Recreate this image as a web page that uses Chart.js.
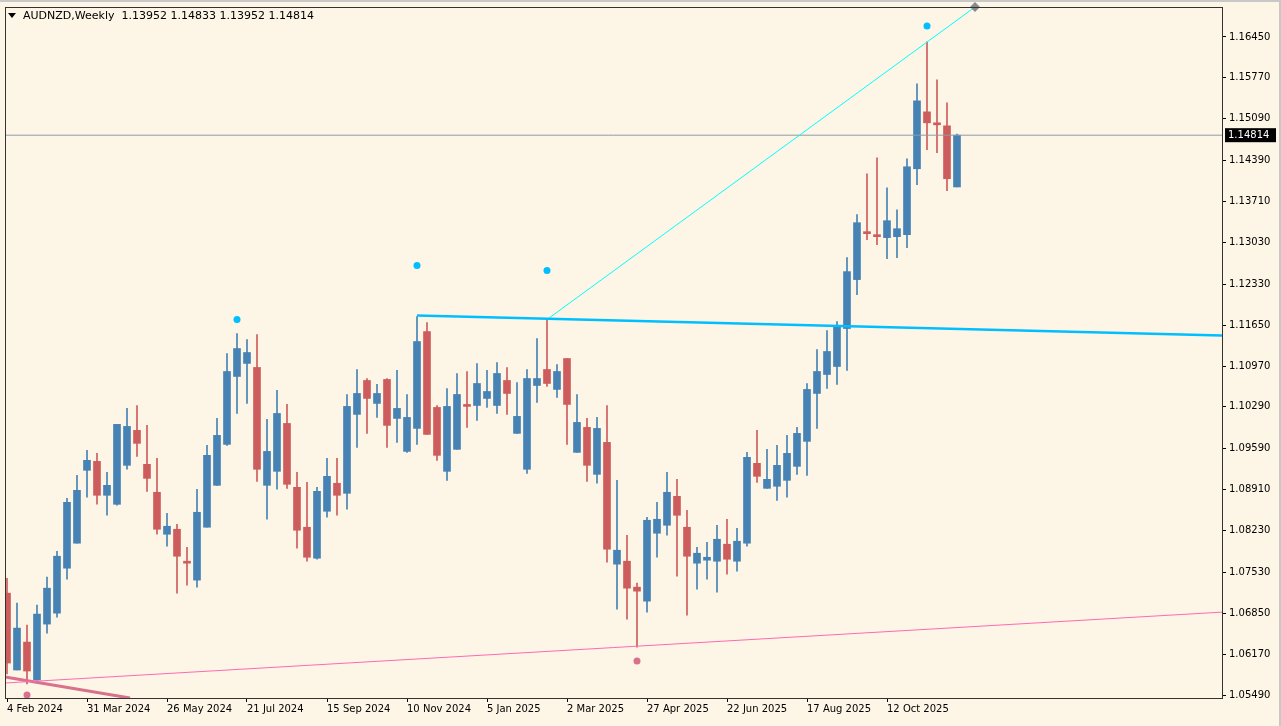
<!DOCTYPE html>
<html>
<head>
<meta charset="utf-8">
<script src="https://cdn.jsdelivr.net/npm/chart.js@4"></script>
<style>
  html, body { margin: 0; padding: 0; background: #fdf5e6; }
  #wrap { width: 1281px; height: 726px; box-sizing: border-box; border-top: 2px solid #c8c8c8; border-right: 2px solid #c8c8c8; }
</style>
</head>
<body>
<div id="wrap"><canvas id="audnzd" width="1279" height="724"></canvas></div>
<script>
// weekly candles AUDNZD, week index 0 = 4 Feb 2024
const opens  = [1.07187,1.05907,1.06372,1.05740,1.06672,1.06854,1.07603,1.08019,1.09233,1.09382,
                1.08817,1.08667,1.09316,1.09898,1.09333,1.08867,1.08168,1.08251,1.07719,1.07404,
                1.08285,1.08983,1.09665,1.10796,1.11013,1.10946,1.08983,1.09216,1.10014,1.08950,
                1.08285,1.07769,1.08551,1.09017,1.08850,1.10164,1.10729,1.10347,1.10746,1.10097,
                1.09548,1.09931,1.11544,1.10280,1.09216,1.09582,1.10330,1.10313,1.10430,1.10313,
                1.10729,1.09848,1.09250,1.10646,1.10912,1.10580,1.11095,1.09532,1.09948,1.09166,
                1.09698,1.07670,1.07719,1.07287,1.07054,1.08185,1.08318,1.08800,1.08285,1.07686,
                1.07736,1.07719,1.08002,1.07719,1.08019,1.09349,1.08933,1.08967,1.09066,1.09299,
                1.09715,1.10513,1.10829,1.10962,1.11594,1.12409,1.13191,1.13157,1.13108,1.13124,
                1.13157,1.14255,1.15203,1.15003,1.14970,1.13952];
const highs  = [1.07436,1.07021,1.06655,1.06988,1.07453,1.07885,1.08767,1.09149,1.09565,1.09515,
                1.09200,1.09998,1.10264,1.10313,1.09981,1.09432,1.08517,1.08334,1.07951,1.08917,
                1.09648,1.10097,1.11178,1.11511,1.11412,1.11495,1.10081,1.10563,1.10330,1.09200,
                1.09033,1.08950,1.09432,1.09432,1.10496,1.10912,1.10762,1.10663,1.10762,1.10896,
                1.10496,1.11794,1.11694,1.10313,1.10596,1.10846,1.10879,1.11012,1.10896,1.11029,
                1.10945,1.10696,1.10912,1.11428,1.11760,1.10995,1.11095,1.10496,1.10097,1.10114,
                1.10313,1.09066,1.08152,1.07353,1.08451,1.08700,1.09200,1.09083,1.08567,1.07951,
                1.08035,1.08318,1.08418,1.08268,1.09532,1.09898,1.09582,1.09648,1.09815,1.09948,
                1.10679,1.11245,1.11561,1.11710,1.12775,1.13490,1.14172,1.14438,1.13939,1.13573,
                1.14421,1.15668,1.16367,1.15735,1.15352,1.14833];
const lows   = [1.05840,1.05907,1.05674,1.05740,1.06522,1.06788,1.07420,1.08019,1.08784,1.08667,
                1.08484,1.08651,1.09250,1.09465,1.08883,1.08168,1.07968,1.07187,1.07320,1.07287,
                1.08285,1.08983,1.09648,1.10180,1.10347,1.09050,1.08418,1.08917,1.08933,1.07935,
                1.07719,1.07752,1.08451,1.08484,1.08584,1.09615,1.09848,1.10114,1.09615,1.09698,
                1.09532,1.09665,1.09831,1.09399,1.09066,1.09582,1.09948,1.10064,1.10280,1.10180,
                1.10164,1.09848,1.09183,1.10363,1.10629,1.10446,1.09665,1.09532,1.09050,1.09017,
                1.07703,1.06921,1.06755,1.06289,1.06871,1.07785,1.08152,1.07470,1.06821,1.07254,
                1.07420,1.07204,1.07503,1.07553,1.07968,1.09033,1.08933,1.08733,1.08784,1.09166,
                1.09149,1.09931,1.10596,1.10663,1.10896,1.12159,1.13074,1.12991,1.12758,1.12775,
                1.12941,1.13989,1.14571,1.14521,1.13889,1.13952];
const closes = [1.06023,1.06605,1.05890,1.06838,1.07270,1.07802,1.08700,1.08900,1.09399,1.08817,
                1.08983,1.09998,1.09964,1.09682,1.09099,1.08251,1.08301,1.07802,1.07686,1.08534,
                1.09482,1.09815,1.10879,1.11261,1.11195,1.09250,1.09548,1.10180,1.09000,1.08235,
                1.07785,1.08883,1.09133,1.08817,1.10297,1.10513,1.10430,1.10513,1.09981,1.10264,
                1.10114,1.11378,1.09831,1.09482,1.10297,1.10496,1.10297,1.10679,1.10546,1.10846,
                1.10513,1.10131,1.10762,1.10762,1.10679,1.10879,1.10330,1.10031,1.09316,1.09931,
                1.07919,1.07902,1.07270,1.07220,1.08401,1.08418,1.08867,1.08484,1.07802,1.07852,
                1.07785,1.08085,1.07752,1.08052,1.09449,1.09133,1.09083,1.09316,1.09515,1.09848,
                1.10580,1.10879,1.11212,1.11627,1.12542,1.13357,1.13174,1.13124,1.13390,1.13257,
                1.14288,1.15386,1.15020,1.14987,1.14089,1.14814];

const xLabels = {0:'4 Feb 2024', 8:'31 Mar 2024', 16:'26 May 2024', 24:'21 Jul 2024',
                 32:'15 Sep 2024', 40:'10 Nov 2024', 48:'5 Jan 2025', 56:'2 Mar 2025',
                 64:'27 Apr 2025', 72:'22 Jun 2025', 80:'17 Aug 2025', 88:'12 Oct 2025'};
const yTicks = [1.16450,1.15770,1.15090,1.14390,1.13710,1.13030,1.12330,1.11650,1.10970,
                1.10290,1.09590,1.08910,1.08230,1.07530,1.06850,1.06170,1.05490];

// drawn objects
const resistLine = [{x: 41, y: 1.11810}, {x: 121.5, y: 1.11478}];
const trendUp    = [{x: 54, y: 1.11744}, {x: 96.8, y: 1.16949}];
const supportLine = [{x: -0.2, y: 1.05691}, {x: 121.5, y: 1.06871}];
const fallLine   = [{x: -0.2, y: 1.05791}, {x: 12.3, y: 1.05441}];
const upFractals   = [{x: 23, y: 1.11744}, {x: 41, y: 1.12642}, {x: 54, y: 1.12559}, {x: 92, y: 1.16633}];
const downFractals = [{x: 2, y: 1.05491}, {x: 63, y: 1.06058}];
const lastPrice = 1.14814;

const UP = '#4682b4', DOWN = '#cd5c5c';
const colors = opens.map((o, i) => closes[i] >= o ? UP : DOWN);
const bodies = opens.map((o, i) => ({x: i, y: [o, closes[i]]}));
const wicks  = lows.map((l, i) => ({x: i, y: [l, highs[i]]}));

const overlay = {
  id: 'overlay',
  afterDraw(chart) {
    const ctx = chart.ctx, y = chart.scales.y;
    ctx.save();
    ctx.font = '11px "DejaVu Sans"';
    ctx.fillStyle = '#000';
    ctx.textBaseline = 'middle';
    ctx.beginPath();
    ctx.moveTo(8, 11); ctx.lineTo(16, 11); ctx.lineTo(12, 16); ctx.closePath(); ctx.fill();
    ctx.fillText('AUDNZD,Weekly  1.13952 1.14833 1.13952 1.14814', 23, 14);
    const py = y.getPixelForValue(lastPrice);
    ctx.fillStyle = '#000';
    ctx.fillRect(chart.chartArea.right + 3, py - 7, 51, 14);
    ctx.fillStyle = '#fff';
    ctx.font = '10px "DejaVu Sans"';
    ctx.fillText('1.14814', chart.chartArea.right + 6, py);
    ctx.restore();
  }
};

new Chart(document.getElementById('audnzd'), {
  type: 'bar',
  data: {
    datasets: [
      {type: 'line', data: supportLine, borderColor: '#ff69b4', borderWidth: 1, pointRadius: 0, order: 1},
      {type: 'line', data: fallLine, borderColor: '#d9708c', borderWidth: 3, pointRadius: 0, order: 1},
      {type: 'line', data: resistLine, borderColor: '#00bfff', borderWidth: 2.5, pointRadius: 0, order: 1},
      {type: 'line', data: trendUp, borderColor: '#00ffff', borderWidth: 1, pointRadius: 0, order: 1},
      {type: 'line', data: [{x: -0.2, y: lastPrice}, {x: 121.5, y: lastPrice}], borderColor: '#8e9aa8', borderWidth: 1, pointRadius: 0, order: 1},
      {type: 'scatter', data: upFractals, pointRadius: 3.5, backgroundColor: '#00bfff', borderWidth: 0, order: 0},
      {type: 'scatter', data: downFractals, pointRadius: 3.5, backgroundColor: '#d9708c', borderWidth: 0, order: 0},
      {type: 'scatter', data: [trendUp[1]], pointStyle: 'rectRot', pointRadius: 5, backgroundColor: '#8a8a8a', borderWidth: 0, clip: false, order: 0},
      {data: wicks, backgroundColor: colors, barThickness: 1, grouped: false, order: 3},
      {data: bodies, backgroundColor: colors, barThickness: 7, grouped: false, minBarLength: 2, order: 2}
    ]
  },
  options: {
    responsive: false,
    animation: false,
    devicePixelRatio: 1,
    layout: {padding: {left: 4, top: 3, right: 0, bottom: 0}},
    plugins: {legend: {display: false}, tooltip: {enabled: false}},
    scales: {
      x: {
        type: 'linear', min: -0.2, max: 121.5, offset: false,
        grid: {drawOnChartArea: false, tickLength: 4, color: '#000', offset: false},
        border: {color: '#333', width: 1},
        afterBuildTicks: s => { s.ticks = Object.keys(xLabels).map(k => ({value: +k})); },
        afterFit: s => { s.height = 28; s.paddingLeft = 0; s.paddingRight = 0; },
        ticks: {align: 'start', padding: 1, color: '#000', font: {family: 'DejaVu Sans', size: 10},
                callback: v => xLabels[v] || ''}
      },
      y: {
        position: 'right', min: 1.05441, max: 1.16949,
        grid: {drawOnChartArea: false, tickLength: 4, color: '#000'},
        border: {color: '#333', width: 1},
        afterBuildTicks: s => { s.ticks = yTicks.map(v => ({value: v})); },
        afterFit: s => { s.width = 57; s.paddingTop = 0; s.paddingBottom = 0; },
        ticks: {padding: 3, color: '#000', font: {family: 'DejaVu Sans', size: 10},
                callback: v => v.toFixed(5)}
      }
    }
  },
  plugins: [overlay, {
    id: 'frame',
    afterDraw(chart) {
      const a = chart.chartArea, ctx = chart.ctx;
      ctx.save(); ctx.strokeStyle = '#333'; ctx.lineWidth = 1;
      ctx.strokeRect(a.left + 0.5, a.top + 0.5, a.right - a.left, a.bottom - a.top);
      ctx.restore();
    }
  }]
});
</script>
</body>
</html>
